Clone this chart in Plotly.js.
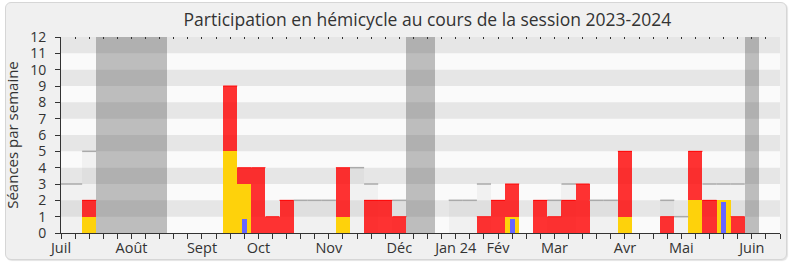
<!DOCTYPE html>
<html>
<head>
<meta charset="utf-8">
<script src="https://cdn.plot.ly/plotly-3.0.1.min.js"></script>
<style>
  html, body { margin:0; padding:0; background:#ffffff; }
  #frame { position:absolute; left:5px; top:2px; width:780px; height:256px;
           background:#f0f0f0; border:1px solid #d6d6d6; border-radius:6px;
           box-shadow: 1px 1px 1px #e4e4e4; }
  #chart { position:absolute; left:0; top:0; width:790px; height:267px; }
</style>
</head>
<body>
<div id="frame"></div>
<div id="chart"></div>
<script>
// ---- Data (week index 0 = first week of July 2023) ----
const monthTickWeeks = [0, 5, 10, 14, 19, 24, 28, 31, 35, 40, 44, 49];
const monthTickLabels = ["Juil", "Août", "Sept", "Oct", "Nov", "Déc", "Jan 24", "Fév", "Mar", "Avr", "Mai", "Juin"];

const vacationWeeks = [3, 4, 5, 6, 7, 25, 26, 49];

// total weekly sessions (red)
const redWeeks  = [2, 12, 13, 14, 15, 16, 20, 22, 23, 24, 30, 31, 32, 34, 35, 36, 37, 40, 43, 45, 46, 47, 48];
const redValues = [2,  9,  4,  4,  1,  2,  4,  2,  2,  1,  1,  2,  3,  2,  1,  2,  3,  5,  1,  5,  2,  2,  1];

// detected presence (yellow)
const yellowWeeks  = [2, 12, 13, 20, 32, 40, 45, 47];
const yellowValues = [1,  5,  3,  1,  1,  1,  2,  2];

// questions (blue)
const blueWeeks  = [13, 32, 47];
const blueValues = [0.85, 0.85, 1.9];

// median of deputies (gray)
const medianWeeks  = [0, 1, 2, 17, 18, 19, 21, 22, 24, 28, 29, 30, 35, 36, 38, 39, 43, 44, 46, 47, 48];
const medianValues = [3, 3, 5,  2,  2,  2,  4,  3,  2,  2,  2,  3,  2,  3,  2,  2,  2,  1,  3,  3,  3];

const yMax = 12;
const xMax = 51;

// ---- Build traces ----
const allWeeks = [];
for (let k = 0; k <= xMax; k++) allWeeks.push(k);
const tickText = allWeeks.map(k => {
  const i = monthTickWeeks.indexOf(k);
  return i >= 0 ? monthTickLabels[i] : "";
});

// median step segments
const medX = [], medY = [];
medianWeeks.forEach((k, i) => {
  medX.push(k - 0.5, k + 0.5, null);
  medY.push(medianValues[i], medianValues[i], null);
});

// bright top edge of red bars (where red exceeds yellow)
const topX = [], topY = [];
redWeeks.forEach((k, i) => {
  const yi = yellowWeeks.indexOf(k);
  const yv = yi >= 0 ? yellowValues[yi] : 0;
  if (redValues[i] > yv) {
    topX.push(k - 0.5, k + 0.5, null);
    topY.push(redValues[i], redValues[i], null);
  }
});

const traces = [
  { type: 'bar', x: vacationWeeks, y: vacationWeeks.map(() => yMax), width: 1,
    marker: { color: 'rgba(90,90,90,0.38)', line: { width: 0 } }, hoverinfo: 'skip' },
  { type: 'bar', x: medianWeeks, y: medianValues, width: 1,
    marker: { color: 'rgba(170,170,170,0.1)', line: { width: 0 } }, hoverinfo: 'skip' },
  { type: 'bar', x: redWeeks, y: redValues, width: 1,
    marker: { color: 'rgba(255,0,0,0.8)', line: { width: 0 } }, hoverinfo: 'skip' },
  { type: 'bar', x: yellowWeeks, y: yellowValues, width: 1,
    marker: { color: '#fed20b', line: { width: 0 } }, hoverinfo: 'skip' },
  { type: 'bar', x: blueWeeks, y: blueValues, width: 0.35,
    marker: { color: '#6666ff', line: { width: 0 } }, hoverinfo: 'skip' },
  { type: 'scatter', mode: 'lines', x: medX, y: medY, xaxis: 'x2',
    line: { color: '#aaaaaa', width: 1.5 }, connectgaps: false, hoverinfo: 'skip' },
  { type: 'scatter', mode: 'lines', x: topX, y: topY, xaxis: 'x2',
    line: { color: 'rgba(255,0,0,0.9)', width: 1 }, connectgaps: false, hoverinfo: 'skip' }
];

// horizontal stripes
const shapes = [];
for (let v = yMax; v > 0; v -= 2) {
  shapes.push({ type: 'rect', xref: 'paper', yref: 'y', x0: 0, x1: 1, y0: v - 1, y1: v,
                fillcolor: '#e6e6e6', line: { width: 0 }, layer: 'below' });
}

const font = 'Open Sans, DejaVu Sans, sans-serif';
const layout = {
  width: 790, height: 267,
  margin: { l: 61, r: 10, t: 37, b: 34, pad: 0 },
  paper_bgcolor: 'rgba(0,0,0,0)',
  plot_bgcolor: '#fafafa',
  showlegend: false,
  barmode: 'overlay',
  bargap: 0,
  font: { family: font, color: '#333333' },
  title: { text: 'Participation en hémicycle au cours de la session 2023-2024',
           font: { family: font, size: 17.5, color: '#333333' },
           x: 0.541, xref: 'container', xanchor: 'center',
           y: 0.925, yref: 'container', yanchor: 'middle' },
  xaxis: { range: [0, xMax], tickvals: allWeeks, ticktext: tickText, tickangle: 0,
           ticks: 'outside', ticklen: 5, tickwidth: 1, tickcolor: '#333333',
           showline: true, linecolor: '#333333', linewidth: 1,
           showgrid: false, zeroline: false, fixedrange: true,
           ticklabelstandoff: -3,
           tickfont: { family: font, size: 14.5, color: '#333333' } },
  xaxis2: { range: [0, xMax], overlaying: 'x', side: 'top', anchor: 'y',
            tickvals: allWeeks, showticklabels: false,
            ticks: 'inside', ticklen: 2, tickwidth: 1, tickcolor: '#333333',
            showline: false, showgrid: false, zeroline: false, fixedrange: true },
  yaxis: { range: [0, yMax], dtick: 1, tick0: 0,
           ticks: 'outside', ticklen: 5, tickwidth: 1, tickcolor: '#333333',
           showline: true, linecolor: '#333333', linewidth: 1,
           showgrid: false, zeroline: false, fixedrange: true,
           ticklabelstandoff: 6,
           tickfont: { family: font, size: 14, color: '#333333' },
           title: { text: 'Séances par semaine', standoff: 7,
                    font: { family: font, size: 15, color: '#333333' } } },
  shapes: shapes
};

Plotly.newPlot('chart', traces, layout, { staticPlot: true, displayModeBar: false });
</script>
</body>
</html>
